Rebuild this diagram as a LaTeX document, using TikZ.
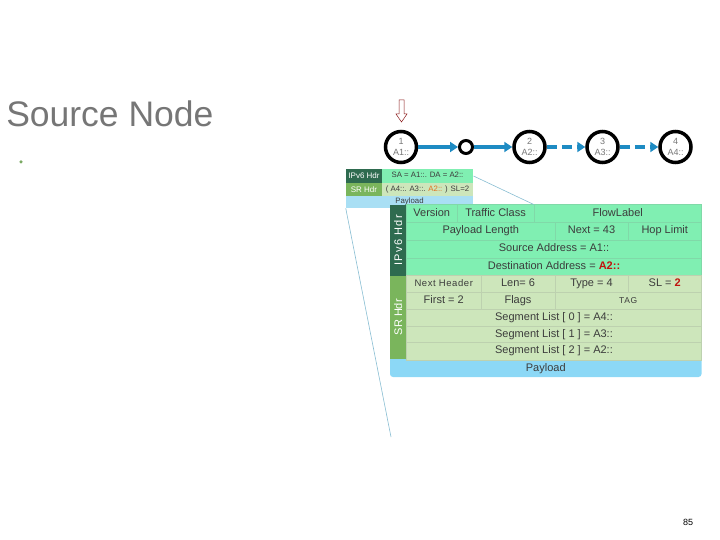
\documentclass[tikz,border=0pt]{standalone}
\usepackage{fontspec}
\setmainfont{Liberation Sans}
\usetikzlibrary{arrows.meta}
\definecolor{cteal}{HTML}{2E6B4F}
\definecolor{cmint}{HTML}{80EFB2}
\definecolor{csrhd}{HTML}{7AB55C}
\definecolor{csrcl}{HTML}{CDE6BB}
\definecolor{cpay}{HTML}{8CD8F6}
\definecolor{cpale}{HTML}{A9DFF4}
\definecolor{cblue}{HTML}{1E8BC3}
\definecolor{ctext}{HTML}{3C3C3C}
\definecolor{cgrey}{HTML}{767676}
\definecolor{cred}{HTML}{C0140F}
\definecolor{corange}{HTML}{E07020}
\definecolor{cdark}{HTML}{8B1A1A}
\tikzset{
  every picture/.style={line width=0.5pt},
  cell/.style={draw=#1!80!gray, fill=#1, inner sep=0pt, text=ctext, text height=8pt, text depth=2.2pt, font=\fontsize{11}{12}\selectfont},
  side/.style={fill=#1, inner sep=0pt, text=white, font=\fontsize{11}{12}\selectfont, rotate=90},
  stag/.style={fill=#1, inner sep=0pt, text=white, font=\fontsize{8}{9}\selectfont, minimum width=35.5pt},
  scell/.style={fill=#1, inner sep=0pt, text=ctext, text height=5.6pt, text depth=1.6pt, font=\fontsize{7.8}{9}\selectfont},
  hop/.style={circle, draw=black, line width=3.5pt, minimum size=31pt, inner sep=0pt, align=center, text=cgrey, font=\fontsize{9}{11}\selectfont},
  link/.style={-{Triangle[length=8pt, width=10pt]}, draw=cblue, line width=4pt},
  callout/.style={draw=cpay!70!gray, line width=0.6pt},
}

\begin{document}
\begin{tikzpicture}[x=1pt, y=-1pt, r/.style={minimum height=17.5pt}]
  \useasboundingbox (0,0) rectangle (720,540);
  \node[anchor=base west, inner sep=0pt, text=cgrey, font=\fontsize{35.5}{40}\selectfont] (title) at (6,127) {Source Node};
  \node[circle, fill=csrhd!80!gray, inner sep=0pt, minimum size=3.5pt] (dot) at (21,162) {};
  % path of the packet
  \draw[cdark] (399,100) -- (404,100) -- (404,114) -- (407,114) -- (401.5,122) -- (396,114) -- (399,114) -- cycle;
  \node[hop] (n1) at (401,147) {1\\A1::};
  \node[circle, draw=black, line width=3pt, minimum size=13pt, inner sep=0pt] (via) at (466,147) {};
  \node[hop] (n2) at (529.5,147) {2\\A2::};
  \node[hop] (n3) at (602.5,147) {3\\A3::};
  \node[hop] (n4) at (675.5,147) {4\\A4::};
  \draw[link] (n1) -- (via); \draw[link] (via) -- (n2);
  \draw[link, dash pattern=on 10pt off 5pt] (n2) -- (n3); \draw[link, dash pattern=on 10pt off 5pt] (n3) -- (n4);
  % small packet
  \node[stag=cteal, minimum height=14pt] (sipv6) at (364,176) {IPv6 Hdr};
  \node[stag=csrhd, minimum height=13pt] (ssr) at (364,189.5) {SR Hdr};
  \node[scell=cmint, minimum width=91.5pt, minimum height=14pt] (sa) at (427.5,176) {SA = A1::. DA = A2::};
  \node[scell=csrcl, minimum width=91.5pt, minimum height=13pt] (sl) at (427.5,189.5) {( A4::. A3::. {\color{corange}A2::} ) SL=2};
  \node[scell=cpale, minimum width=127pt, minimum height=12pt] (spay) at (409.5,202) {Payload};
  \coordinate (foot) at (391,437);
  % big packet
  \node[cell=cpay, rounded corners=3pt, minimum width=311.5pt, minimum height=22pt, text height=11.5pt, text depth=1pt, draw=none] (pay) at (545.75,366) {Payload};
  \node[side=cteal, minimum width=70.5pt, minimum height=16.5pt] (ipv6) at (398.25,240.25) {\addfontfeature{LetterSpace=12}IPv6 Hdr};
  \node[side=csrhd, minimum width=83.5pt, minimum height=16.5pt] (srh) at (398.25,317.25) {SR Hdr};
  \node[cell=cmint, r, minimum width=50.5pt] (ver) at (431.75,213.5) {Version};
  \node[cell=cmint, r, minimum width=77pt] (tc) at (495.5,213.5) {Traffic Class};
  \node[cell=cmint, r, minimum width=167.5pt] (fl) at (617.75,213.5) {FlowLabel};
  \node[cell=cmint, r, minimum width=148.5pt] (plen) at (480.75,231) {Payload Length};
  \node[cell=cmint, r, minimum width=73pt] (nh) at (591.5,231) {Next = 43};
  \node[cell=cmint, r, minimum width=73.5pt] (hl) at (664.75,231) {Hop Limit};
  \node[cell=cmint, r, minimum width=295pt] (src) at (554,249) {Source Address = A1::};
  \node[cell=cmint, r, minimum width=295pt] (dst) at (554,266.75) {Destination Address = {\bfseries\color{cred}A2::}};
  \node[cell=csrcl, r, minimum width=74.5pt, font=\fontsize{9.5}{11}\selectfont\addfontfeature{LetterSpace=6}] (nxt) at (443.75,283.75) {Next Header};
  \node[cell=csrcl, r, minimum width=74pt] (len) at (518,283.75) {Len= 6};
  \node[cell=csrcl, r, minimum width=73pt] (typ) at (591.5,283.75) {Type = 4};
  \node[cell=csrcl, r, minimum width=73.5pt] (sl2) at (664.75,283.75) {SL = {\bfseries\color{cred}2}};
  \node[cell=csrcl, r, minimum width=74.5pt] (fst) at (443.75,300.5) {First = 2};
  \node[cell=csrcl, r, minimum width=74pt] (flg) at (518,300.5) {Flags};
  \node[cell=csrcl, r, minimum width=146.5pt, font=\fontsize{8.5}{10}\selectfont\addfontfeature{LetterSpace=8}] (tag) at (628.25,300.5) {TAG};
  \node[cell=csrcl, r, minimum width=295pt] (seg0) at (554,317.5) {Segment List [ 0 ] = A4::};
  \node[cell=csrcl, r, minimum width=295pt] (seg1) at (554,334.5) {Segment List [ 1 ] = A3::};
  \node[cell=csrcl, r, minimum width=295pt] (seg2) at (554,351) {Segment List [ 2 ] = A2::};
  \draw[callout] (sa.east) -- (fl.north west); \draw[callout] (spay.south west) -- (foot);
  \node[font=\fontsize{9}{10}\selectfont] (page) at (688,522) {85};
\end{tikzpicture}
\end{document}
